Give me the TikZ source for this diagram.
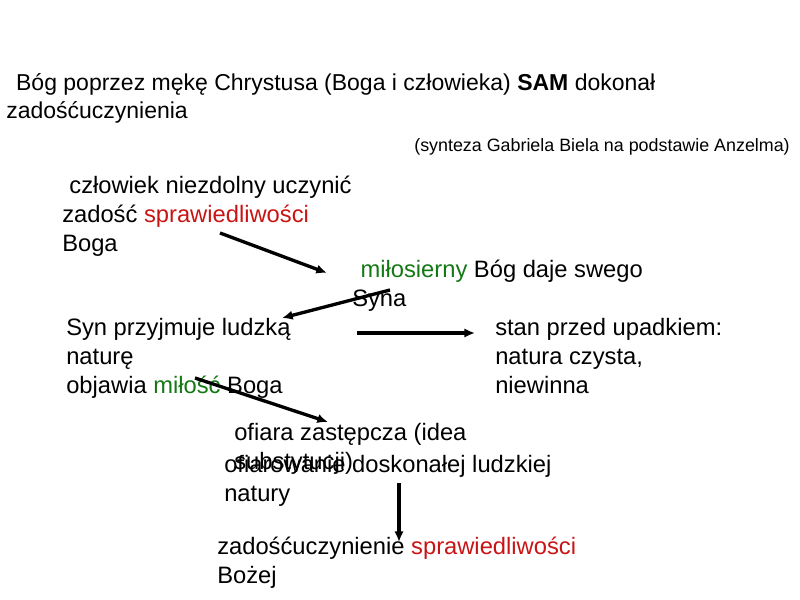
\documentclass[tikz,border=0pt]{standalone}
\usepackage{fontspec}
\setmainfont{Liberation Sans}
\usepackage{xcolor}
\usepackage{tikz}
\usetikzlibrary{arrows.meta}
\tikzset{>=latex}
\definecolor{czerw}{RGB}{200,20,20}
\definecolor{ziel}{RGB}{20,120,20}
\tikzstyle{txt} = [draw=none, inner sep=0, anchor=base west, align=left, font=\fontsize{17.8}{21.5}\selectfont]
\tikzstyle{strz} = [-{Latex[length=8pt,width=7pt]}, line width=2.5pt]

\begin{document}
\begin{tikzpicture}[x=0.75pt, y=-0.75pt]
\useasboundingbox (0,0) rectangle (800,600);
% kotwica: linia bazowa ostatniego wiersza
\node [txt, font=\fontsize{17.25}{21}\selectfont] (tytul) at (6,118) {\hspace{0.43em}Bóg poprzez mękę Chrystusa (Boga i człowieka) \textbf{SAM} dokonał\\zadośćuczynienia};
\node [txt, anchor=base east, font=\fontsize{13.4}{16}\selectfont] (zrodlo) at (790,151) {(synteza Gabriela Biela na podstawie Anzelma)};
\node [txt] (czlowiek) at (62,251) {\hspace{0.3em}człowiek niezdolny uczynić\\zadość \textcolor{czerw}{sprawiedliwości}\\Boga};
\node [txt] (milosierny) at (352,306) {\hspace{0.35em}\textcolor{ziel}{miłosierny} Bóg daje swego\\Syna};
\node [txt] (syn) at (66,393) {Syn przyjmuje ludzką\\naturę\\objawia \textcolor{ziel}{miłość} Boga};
\node [txt] (stan) at (495,393) {stan przed upadkiem:\\natura czysta,\\niewinna};
\node [txt] (ofiara) at (234,469) {ofiara zastępcza (idea\\substytucji)};
\node [txt] (ofiarowanie) at (224,501) {ofiarowanie doskonałej ludzkiej\\natury};
\node [txt] (zadosc) at (217,583) {zadośćuczynienie \textcolor{czerw}{sprawiedliwości}\\Bożej};

\coordinate (s1) at (220,233);
\coordinate (k1) at (327,273);
\coordinate (s2) at (390,290);
\coordinate (k2) at (282,318);
\coordinate (s3) at (357,333);
\coordinate (k3) at (475,333);
\coordinate (s4) at (195,378);
\coordinate (k4) at (328,422);
\coordinate (s5) at (399,483);
\coordinate (k5) at (399,542);
\draw [strz] (s1) to (k1);
\draw [strz] (s2) to (k2);
\draw [strz] (s3) to (k3);
\draw [strz] (s4) to (k4);
\draw [strz] (s5) to (k5);
\end{tikzpicture}
\end{document}
